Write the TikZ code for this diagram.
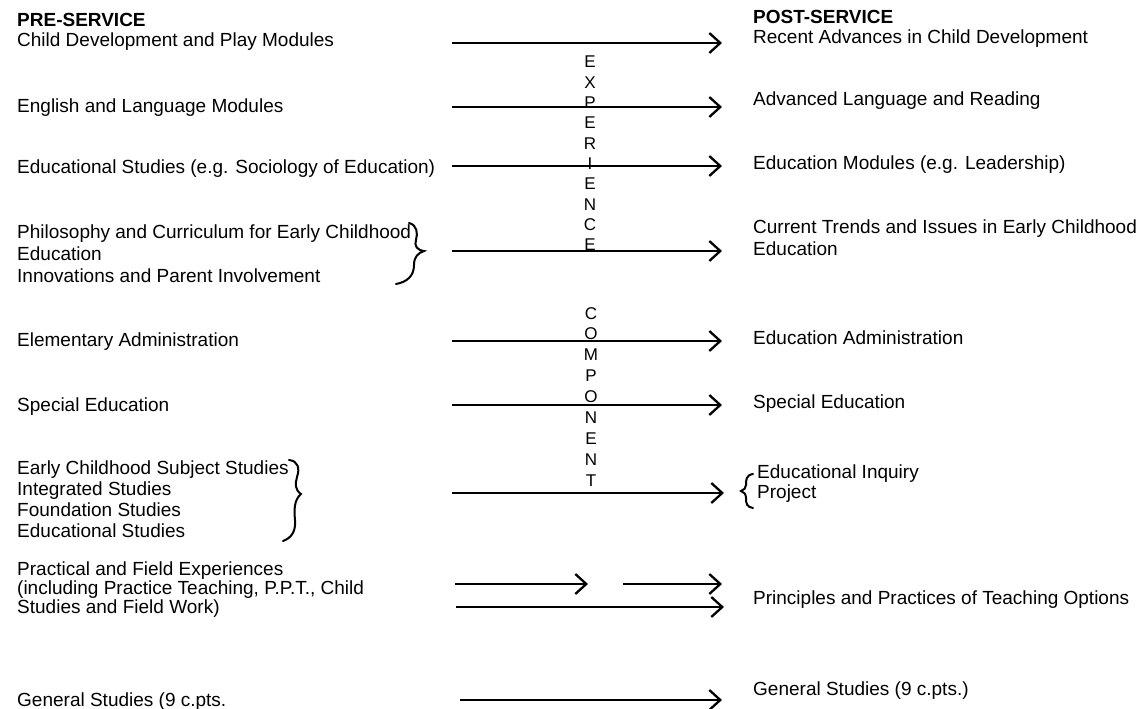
\documentclass[tikz,border=0pt]{standalone}
\usepackage{fontspec}
\setmainfont{Liberation Sans}
\usetikzlibrary{arrows.meta}
\begin{document}
\begin{tikzpicture}[x=1pt,y=-1pt,
  txt/.style={anchor=base west, inner sep=0pt, font=\fontsize{19}{22}\selectfont},
  hd/.style={anchor=base west, inner sep=0pt, font=\fontsize{19}{22}\selectfont\bfseries},
  arr/.style={line width=2.3pt, -{Straight Barb[length=11pt,width=20pt]}},
  vlet/.style={anchor=base, inner sep=0pt, font=\fontsize{17}{20}\selectfont},
  brc/.style={line width=2pt, line cap=round}]
\useasboundingbox (0,0) rectangle (1136,709);
\fill[white] (0,0) rectangle (1136,709);

% left column
\node[hd]  (lh)  at (17,27)  {PRE-SERVICE};
\node[txt] (l1)  at (17,47)  {Child Development and Play Modules};
\node[txt] (l2)  at (17,112) {English and Language Modules};
\node[txt] (l3)  at (17,173) {Educational Studies (e.g. Sociology of Education)};
\node[txt] (l4a) at (17,238) {Philosophy and Curriculum for Early Childhood};
\node[txt] (l4b) at (17,260) {Education};
\node[txt] (l4c) at (17,282) {Innovations and Parent Involvement};
\node[txt] (l5)  at (17,346) {Elementary Administration};
\node[txt] (l6)  at (17,411) {Special Education};
\node[txt] (l7a) at (17,474) {Early Childhood Subject Studies};
\node[txt] (l7b) at (17,495) {Integrated Studies};
\node[txt] (l7c) at (17,516) {Foundation Studies};
\node[txt] (l7d) at (17,537) {Educational Studies};
\node[txt] (l8a) at (17,575) {Practical and Field Experiences};
\node[txt] (l8b) at (17,594) {(including Practice Teaching, P.P.T., Child};
\node[txt] (l8c) at (17,613) {Studies and Field Work)};
\node[txt] (l9)  at (17,706) {General Studies (9 c.pts.};

% right column
\node[hd]  (rh)  at (753,24)  {POST-SERVICE};
\node[txt] (r1)  at (753,44)  {Recent Advances in Child Development};
\node[txt] (r2)  at (753,106) {Advanced Language and Reading};
\node[txt] (r3)  at (753,169) {Education Modules (e.g. Leadership)};
\node[txt] (r4a) at (753,233) {Current Trends and Issues in Early Childhood};
\node[txt] (r4b) at (753,255) {Education};
\node[txt] (r5)  at (753,344) {Education Administration};
\node[txt] (r6)  at (753,408) {Special Education};
\node[txt] (r7a) at (757,478) {Educational Inquiry};
\node[txt] (r7b) at (757,498) {Project};
\node[txt] (r8)  at (753,604) {Principles and Practices of Teaching Options};
\node[txt] (r9)  at (753,695) {General Studies (9 c.pts.)};

% vertical words
\foreach \ch [count=\i from 0] in {E,X,P,E,R,I,E,N,C,E}
  \node[vlet] (e\i) at (590,{68+20.3*\i}) {\ch};
\foreach \ch [count=\i from 0] in {C,O,M,P,O,N,E,N,T}
  \node[vlet] (c\i) at (591,{319+20.9*\i}) {\ch};

% arrow end points
\coordinate (a1s) at (452,43);  \coordinate (a1e) at (722,43);
\coordinate (a2s) at (452,107); \coordinate (a2e) at (722,107);
\coordinate (a3s) at (452,166); \coordinate (a3e) at (722,166);
\coordinate (a4s) at (452,251); \coordinate (a4e) at (722,251);
\coordinate (a5s) at (452,341); \coordinate (a5e) at (722,341);
\coordinate (a6s) at (452,405); \coordinate (a6e) at (722,405);
\coordinate (a7s) at (452,493); \coordinate (a7e) at (724,493);
\coordinate (a8s) at (455,584); \coordinate (a8e) at (588,584);
\coordinate (a9s) at (623,584); \coordinate (a9e) at (722,584);
\coordinate (a10s) at (456,607); \coordinate (a10e) at (724,607);
\coordinate (a11s) at (460,700); \coordinate (a11e) at (722,700);

\foreach \k in {1,...,11} \draw[arr] (a\k s) -- (a\k e);

% braces
\draw[brc] (409,223) .. controls (417,225) and (418,233) .. (416,240)
  .. controls (414,246) and (417,250) .. (424,251)
  .. controls (418,253) and (414,257) .. (414,265)
  .. controls (414,276) and (407,282) .. (396,284);
\draw[brc] (289,460) .. controls (298,461) and (300,468) .. (297,477)
  .. controls (295,484) and (295,490) .. (301,494)
  .. controls (294,500) and (294,510) .. (295,520)
  .. controls (296,532) and (291,538) .. (283,541);
\draw[brc] (753,474) .. controls (746,475) and (746,480) .. (746,485)
  .. controls (746,488) and (744,490) .. (741,491)
  .. controls (744,492) and (746,494) .. (746,498)
  .. controls (746,504) and (747,507) .. (753,508);
\end{tikzpicture}
\end{document}
